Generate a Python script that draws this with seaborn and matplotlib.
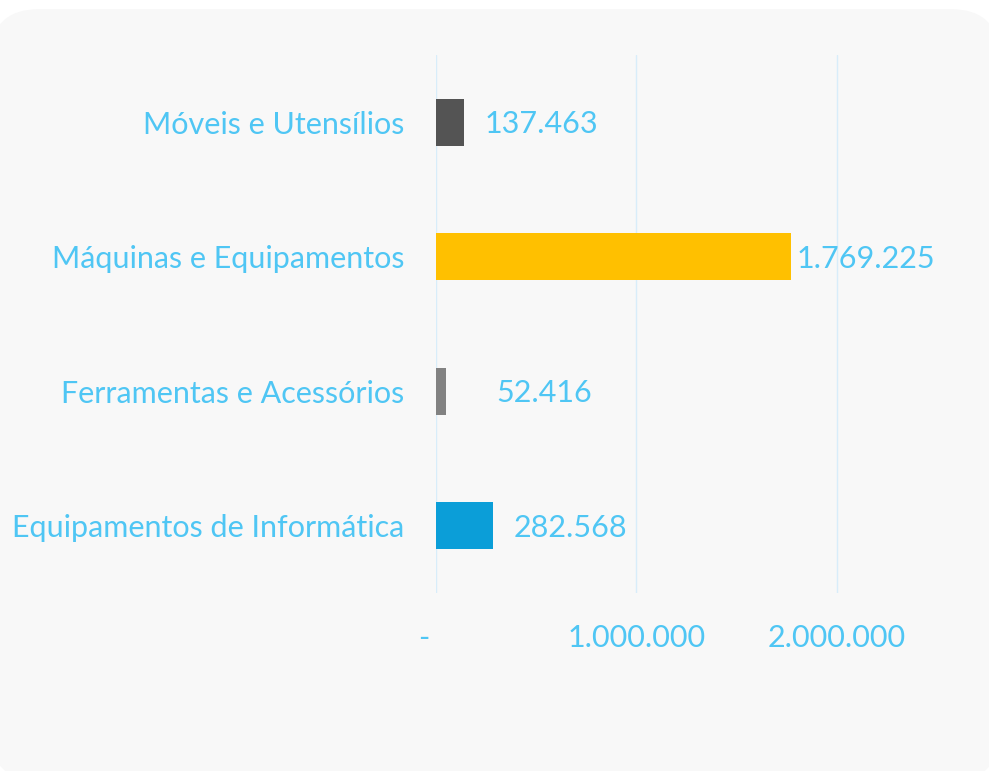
import matplotlib
matplotlib.use('Agg')
import matplotlib.pyplot as plt
import seaborn as sns
import pandas as pd
from matplotlib.patches import FancyBboxPatch

# dados
categorias = ['Móveis e Utensílios', 'Máquinas e Equipamentos',
              'Ferramentas e Acessórios', 'Equipamentos de Informática']
valores = [137463, 1769225, 52416, 282568]
cores = ['#545454', '#FFC000', '#828282', '#0B9ED8']
xticks = [0, 1000000, 2000000]
xtick_labels = ['-   ', '1.000.000', '2.000.000']

df = pd.DataFrame({'Categoria': categorias, 'Valor': valores})

sns.set_style('white')
plt.rcParams['font.family'] = ['Lato', 'DejaVu Sans']
azul = '#4FC6F4'

fig = plt.figure(figsize=(9.89, 7.71), dpi=100)
fig.patch.set_facecolor('white')

# fundo arredondado
fundo = FancyBboxPatch((-0.1, -0.1), 10.1, 7.72,
                       boxstyle='round,pad=0,rounding_size=0.5',
                       transform=fig.dpi_scale_trans,
                       facecolor='#F8F8F8', edgecolor='none', zorder=-5)
fig.patches.append(fundo)

ax = fig.add_axes([0.4408, 0.2309, 0.4156, 0.6978])
ax.set_facecolor('none')

sns.barplot(data=df, x='Valor', y='Categoria', hue='Categoria',
            palette=dict(zip(categorias, cores)), legend=False,
            width=0.35, orient='h', ax=ax, saturation=1, linewidth=0)

ax.set_xlim(0, 2050000)
ax.set_ylim(3.5, -0.5)
ax.set_xticks(xticks)
ax.set_xticklabels(xtick_labels)
ax.grid(axis='x', color='#D8EDFA', linewidth=1)
ax.set_axisbelow(True)
for s in ax.spines.values():
    s.set_visible(False)
ax.tick_params(axis='both', length=0, labelsize=22, labelcolor=azul)
ax.tick_params(axis='x', pad=22)
ax.tick_params(axis='y', pad=23)
ax.set_xlabel('')
ax.set_ylabel('')

# rótulos dos valores
deslocamentos = [21, 6, 50, 21]
for i, v in enumerate(valores):
    txt = f'{v:,}'.replace(',', '.')
    ax.annotate(txt, (v, i), xytext=(deslocamentos[i] * 0.72, -1.5),
                textcoords='offset points', va='center', ha='left',
                color=azul, fontsize=22, annotation_clip=False)

fig.savefig('out.png', dpi=100)
